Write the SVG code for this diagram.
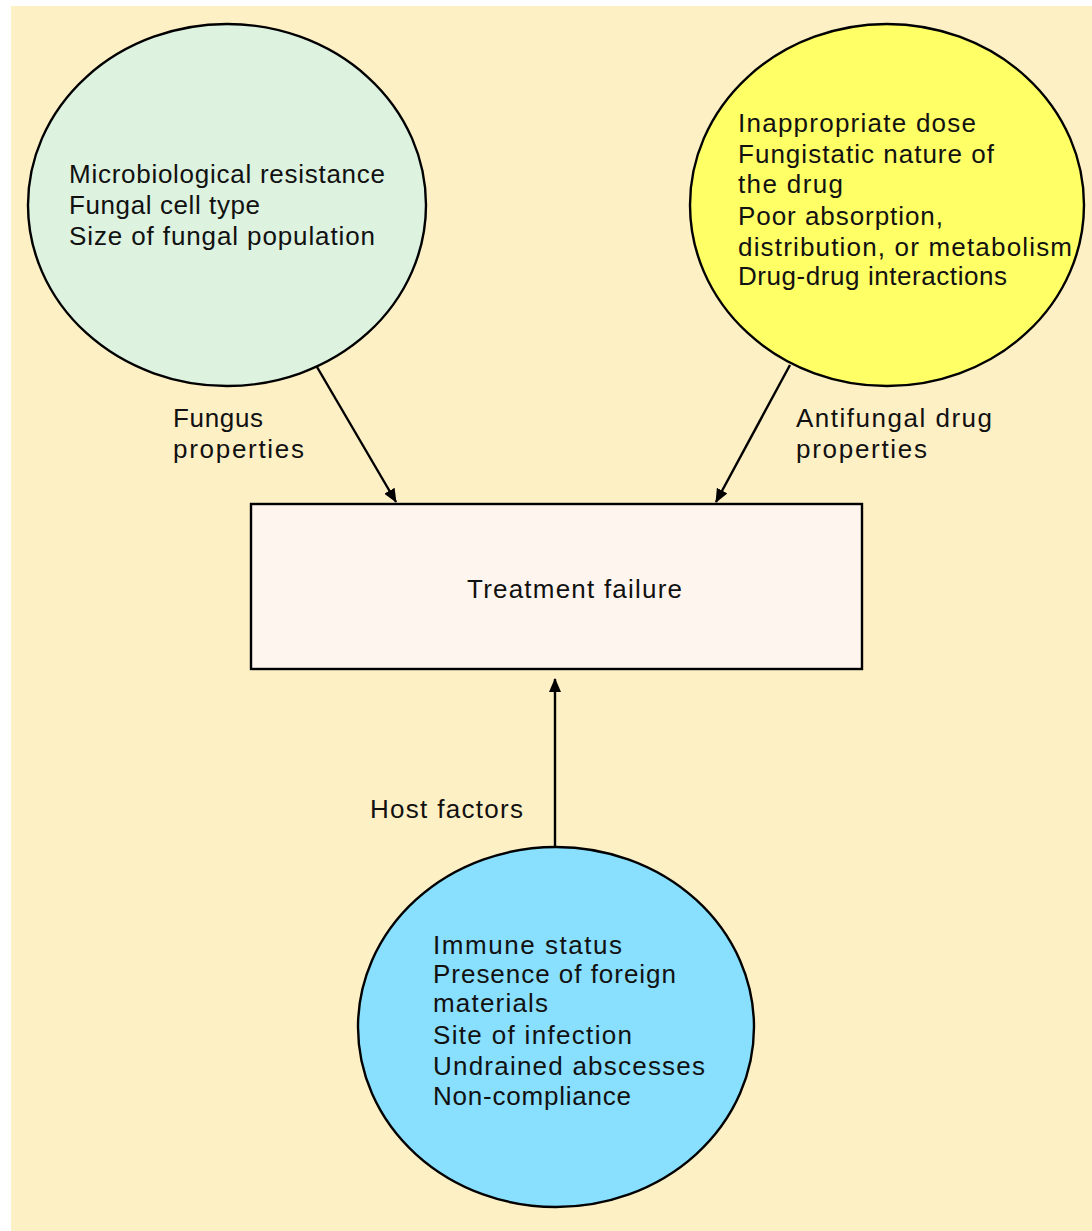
<svg xmlns="http://www.w3.org/2000/svg" width="1092" height="1231" viewBox="0 0 1092 1231">
<style>
text{font-family:"Liberation Sans",Arial,sans-serif;font-size:26px;fill:#111;}
.node{stroke:#000;stroke-width:2.4;}
.conn{stroke:#000;stroke-width:2.4;fill:none;}
</style>
<defs>
<marker id="ah" markerWidth="14" markerHeight="12" refX="13" refY="6" orient="auto" markerUnits="userSpaceOnUse">
<path d="M0,0 L14,6 L0,12 Z" fill="#000"/>
</marker>
</defs>
<rect x="0" y="0" width="1092" height="1231" fill="#fff"/>
<rect x="11" y="6" width="1081" height="1225" fill="#FEF0C5"/>
<g id="connectors">
<line class="conn" x1="317" y1="367" x2="396" y2="502" marker-end="url(#ah)"/>
<line class="conn" x1="790" y1="365" x2="716" y2="502" marker-end="url(#ah)"/>
<line class="conn" x1="555" y1="847" x2="555" y2="679" marker-end="url(#ah)"/>
<text x="173" y="427" textLength="90" lengthAdjust="spacing">Fungus</text>
<text x="173" y="458" textLength="131" lengthAdjust="spacing">properties</text>
<text x="796" y="427" textLength="196" lengthAdjust="spacing">Antifungal drug</text>
<text x="796" y="458" textLength="131" lengthAdjust="spacing">properties</text>
<text x="370" y="818" textLength="153" lengthAdjust="spacing">Host factors</text>
</g>
<g id="fungus">
<ellipse class="node" cx="227" cy="205" rx="199" ry="181" fill="#DDF3E0"/>
<text x="69" y="183" textLength="316" lengthAdjust="spacing">Microbiological resistance</text>
<text x="69" y="214" textLength="191" lengthAdjust="spacing">Fungal cell type</text>
<text x="69" y="245" textLength="306" lengthAdjust="spacing">Size of fungal population</text>
</g>
<g id="drug">
<ellipse class="node" cx="887" cy="205" rx="197" ry="181" fill="#FFFF66"/>
<text x="738" y="132" textLength="238" lengthAdjust="spacing">Inappropriate dose</text>
<text x="738" y="163" textLength="256" lengthAdjust="spacing">Fungistatic nature of</text>
<text x="738" y="193" textLength="105" lengthAdjust="spacing">the drug</text>
<text x="738" y="225" textLength="205" lengthAdjust="spacing">Poor absorption,</text>
<text x="738" y="256" textLength="334" lengthAdjust="spacing">distribution, or metabolism</text>
<text x="738" y="285" textLength="269" lengthAdjust="spacing">Drug-drug interactions</text>
</g>
<g id="treatment">
<rect class="node" x="251" y="504" width="611" height="165" fill="#FEF6EE"/>
<text x="467" y="598" textLength="215" lengthAdjust="spacing">Treatment failure</text>
</g>
<g id="host">
<ellipse class="node" cx="556" cy="1027" rx="198" ry="180" fill="#88E0FE"/>
<text x="433" y="954" textLength="189" lengthAdjust="spacing">Immune status</text>
<text x="433" y="983" textLength="243" lengthAdjust="spacing">Presence of foreign</text>
<text x="433" y="1012" textLength="115" lengthAdjust="spacing">materials</text>
<text x="433" y="1044" textLength="199" lengthAdjust="spacing">Site of infection</text>
<text x="433" y="1075" textLength="272" lengthAdjust="spacing">Undrained abscesses</text>
<text x="433" y="1105" textLength="198" lengthAdjust="spacing">Non-compliance</text>
</g>
</svg>
